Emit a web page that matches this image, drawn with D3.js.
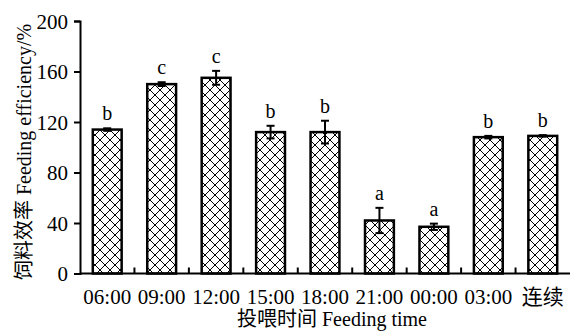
<!DOCTYPE html>
<html>
<head>
<meta charset="utf-8">
<script src="https://cdn.jsdelivr.net/npm/d3@7"></script>
<style>
  html, body { margin: 0; padding: 0; background: #fff; }
  svg { display: block; }
</style>
</head>
<body>
<svg id="chart" width="570" height="332"></svg>
<script>
// Feeding efficiency by feeding time
const categories = ["06:00", "09:00", "12:00", "15:00", "18:00", "21:00", "00:00", "03:00", "连续"];
const efficiency = [114, 150, 155, 112, 112, 42, 37, 108, 109];
const errors = [1, 1.5, 5.5, 5, 9, 10, 2.5, 1, 0.6];
const letters = ["b", "c", "c", "b", "b", "a", "a", "b", "b"];
const yTicks = [0, 40, 80, 120, 160, 200];

const FONT = "'Liberation Serif', 'Times New Roman', 'Noto Sans CJK SC', serif";

const svg = d3.select("#chart");
const margin = { left: 80, right: 0, top: 21, bottom: 58 };
const W = 570, H = 332;

const x = d3.scaleBand().domain(categories).range([margin.left, W]).paddingInner(0.47).paddingOuter(0.235);
const xb = d3.scaleBand().domain(categories).range([margin.left, W]);
const y = d3.scaleLinear().domain([0, 200]).range([H - margin.bottom - 0.5, margin.top]);

// cross-hatch fill
const defs = svg.append("defs");
const p = defs.append("pattern").attr("id", "hatch").attr("patternUnits", "userSpaceOnUse")
  .attr("width", 10).attr("height", 10);
p.append("rect").attr("width", 10).attr("height", 10).attr("fill", "#fff");
p.append("path").attr("d", "M0,0 L10,10 M10,0 L0,10 M-5,5 L5,-5 M5,15 L15,5 M-5,5 L5,15 M5,-5 L15,5")
  .attr("stroke", "#000").attr("stroke-width", 1);

// bars
svg.append("g").selectAll("rect").data(categories).join("rect")
  .attr("x", (d) => x(d))
  .attr("y", (d, i) => y(efficiency[i]))
  .attr("width", x.bandwidth())
  .attr("height", (d, i) => y(0) - y(efficiency[i]))
  .attr("fill", "url(#hatch)")
  .attr("stroke", "#000").attr("stroke-width", 2.5);

// error bars
const eg = svg.append("g").attr("stroke", "#000").attr("stroke-width", 2);
categories.forEach((c, i) => {
  const cx = x(c) + x.bandwidth() / 2;
  const hi = y(efficiency[i] + errors[i]), lo = y(efficiency[i] - errors[i]);
  eg.append("line").attr("x1", cx).attr("x2", cx).attr("y1", hi).attr("y2", lo);
  eg.append("line").attr("x1", cx - 4).attr("x2", cx + 4).attr("y1", hi).attr("y2", hi);
  eg.append("line").attr("x1", cx - 4).attr("x2", cx + 4).attr("y1", lo).attr("y2", lo);
});

// significance letters
svg.append("g").selectAll("text").data(categories).join("text")
  .attr("x", (d) => x(d) + x.bandwidth() / 2)
  .attr("y", (d, i) => y(efficiency[i] + errors[i]) - 8)
  .attr("text-anchor", "middle")
  .style("font-family", FONT).style("font-size", "20px")
  .text((d, i) => letters[i]);

// y axis
const yAxis = svg.append("g").attr("transform", `translate(${margin.left},0)`)
  .call(d3.axisLeft(y).tickValues(yTicks).tickSize(6).tickPadding(6));
yAxis.select(".domain").attr("stroke-width", 2);
yAxis.selectAll(".tick line").attr("stroke-width", 2);
yAxis.selectAll("text").style("font-family", FONT).style("font-size", "21px").attr("dy", "0.35em");

// x axis: ticks between categories, pointing up
const xAxis = svg.append("g").attr("transform", `translate(0,${y(0)})`);
xAxis.append("line").attr("x1", margin.left).attr("x2", W).attr("stroke", "#000").attr("stroke-width", 2);
xAxis.selectAll("line.sep").data(categories.slice(1)).join("line")
  .attr("class", "sep")
  .attr("x1", (d) => xb(d)).attr("x2", (d) => xb(d))
  .attr("y1", 0).attr("y2", -6)
  .attr("stroke", "#000").attr("stroke-width", 2);
xAxis.selectAll("text").data(categories).join("text")
  .attr("x", (d) => xb(d) + xb.bandwidth() / 2)
  .attr("y", 30)
  .attr("text-anchor", "middle")
  .style("font-family", FONT).style("font-size", "21px")
  .text((d) => d);

// axis titles
svg.append("text").attr("x", 332).attr("y", 326).attr("text-anchor", "middle")
  .style("font-family", FONT).style("font-size", "20px").text("投喂时间 Feeding time");
svg.append("text").attr("transform", "translate(31,152) rotate(-90)").attr("text-anchor", "middle")
  .style("font-family", FONT).style("font-size", "20px").text("饲料效率 Feeding efficiency/%");
</script>
</body>
</html>
